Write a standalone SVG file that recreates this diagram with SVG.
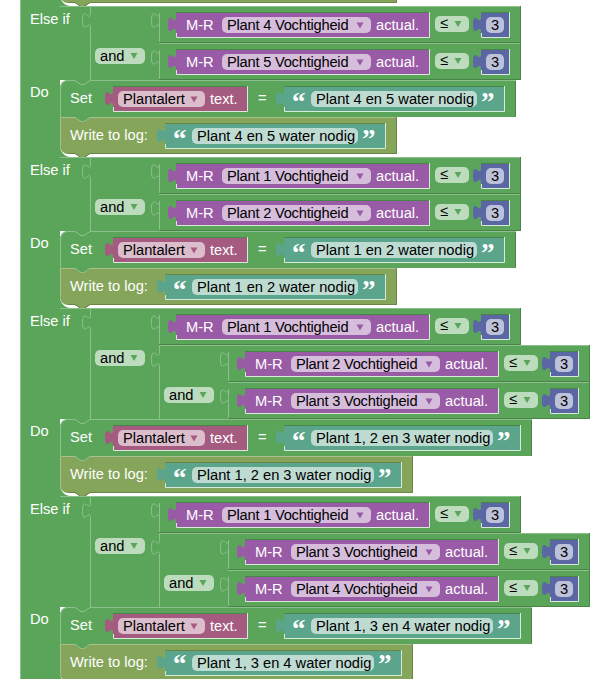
<svg xmlns="http://www.w3.org/2000/svg" width="615" height="679" viewBox="0 0 615 679">
<style>
text{font-family:"Liberation Sans",Arial,sans-serif;font-size:14.67px;fill:#000}
.w{fill:#fff}
.v{letter-spacing:-0.22px}
.q{font-family:"Liberation Serif","Times New Roman",serif;font-weight:bold;font-size:27px;fill:#fff}
.m{text-anchor:middle}
.g{fill:#5ba55b}.o{fill:#85a55b}.t{fill:#5ba58c}.p{fill:#995ba5}.k{fill:#a55b80}.b{fill:#5b67a5}
.fg{fill:#bddbbd}.fp{fill:#d6bddb}.fk{fill:#dbbdcc}.ft{fill:#bddbd1}.fb{fill:#bdc2db}
.lg{fill:none;stroke:#8cc08c;stroke-width:1}
.dg{fill:none;stroke:#488448;stroke-width:1}
.lo{fill:none;stroke:#a9c08c;stroke-width:1}
.do{fill:none;stroke:#6a8448;stroke-width:1}
.hi{fill:none;stroke:#d8ead8;stroke-width:1}
</style>
<defs>
<g id="row">
<rect class="g" width="362" height="37"/>
<path class="lg" d="M0.5,37V7c0,10 -8,-8 -8,7.500s8,-2.500 8,7.500V37"/>
<path class="lg" d="M0,0.500H361"/>
<path class="dg" d="M361.500,0V36.500H0"/>
<path class="p" d="M17,6V11c0,10 -8,-8 -8,7.500s8,-2.500 8,7.500V32H271V6Z"/>
<path class="dg" d="M17,6.500H271"/>
<path class="hi" d="M270.500,6V31.500H17.500V27"/>
<rect class="fp" x="63" y="11" width="149" height="16" rx="5"/>
<path class="p" d="M197.500,16.500h7l-3.500,6Z"/>
<rect class="fg" x="276" y="10" width="34" height="16" rx="5"/>
<path class="g" d="M295.500,15h7l-3.500,6Z"/>
<path class="b" d="M322,6V11c0,10 -8,-8 -8,7.500s8,-2.500 8,7.500V32H351V6Z"/>
<path class="dg" d="M322,6.500H351"/>
<path class="hi" d="M350.500,6V31.500H322.500V27"/>
<rect class="fb" x="327" y="11" width="18" height="16" rx="5"/>
</g>
<g id="pinkVar">
<path class="k" d="M113,6V11c0,10 -8,-8 -8,7.500s8,-2.500 8,7.500V32H248V6Z"/>
<path class="dg" d="M113,6.500H248"/>
<path class="hi" d="M247.500,6V31.500H113.500V27"/>
<rect class="fk" x="118" y="11" width="87" height="16" rx="5"/>
<path class="k" d="M190.500,16.500h7l-3.500,6Z"/>
</g>
<g id="doNarrow">
<path class="g" d="M60,8a8,8 0 0 1 8,-8H516V37H60Z"/>
<path class="lg" d="M60.500,37V8a7.500,7.500 0 0 1 7.500,-7.500H75l6,4h3l6,-4H516"/>
<path class="dg" d="M515.500,1V36.500"/>
<use href="#pinkVar"/>
<path class="g" d="M60,66V77H71A11,11 0 0 1 60,66Z"/>
<path class="o" d="M60,37H397V74H90l-6,4h-3l-6,-4H68a8,8 0 0 1 -8,-8Z"/>
<path class="lo" d="M60.500,66V37.500H396"/>
<path class="do" d="M396.500,37V73.500H90l-6,4h-3l-6,-4H68"/>
<path class="g" d="M75,37l6,4h3l6,-4Z"/>
<path class="lg" d="M75,37.500l6,4h3l6,-4"/>
<path class="t" d="M284,6V11c0,10 -8,-8 -8,7.500s8,-2.500 8,7.500V32H505V6Z"/>
<path class="dg" d="M284,6.500H505"/>
<path class="hi" d="M504.500,6V31.500H284.500V27"/>
<rect class="ft" x="311" y="11" width="166" height="16" rx="5"/>
<path class="t" d="M165,43V48c0,10 -8,-8 -8,7.500s8,-2.500 8,7.500V69H386V43Z"/>
<path class="do" d="M165,43.500H386"/>
<path class="hi" d="M385.500,43V68.500H165.500V64"/>
<rect class="ft" x="192" y="48" width="166" height="16" rx="5"/>
</g>
<g id="doWide">
<path class="g" d="M60,8a8,8 0 0 1 8,-8H532V37H60Z"/>
<path class="lg" d="M60.500,37V8a7.500,7.500 0 0 1 7.500,-7.500H75l6,4h3l6,-4H532"/>
<path class="dg" d="M531.500,1V36.500"/>
<use href="#pinkVar"/>
<path class="g" d="M60,66V77H71A11,11 0 0 1 60,66Z"/>
<path class="o" d="M60,37H413V74H90l-6,4h-3l-6,-4H68a8,8 0 0 1 -8,-8Z"/>
<path class="lo" d="M60.500,66V37.500H412"/>
<path class="do" d="M412.500,37V73.500H90l-6,4h-3l-6,-4H68"/>
<path class="g" d="M75,37l6,4h3l6,-4Z"/>
<path class="lg" d="M75,37.500l6,4h3l6,-4"/>
<path class="t" d="M284,6V11c0,10 -8,-8 -8,7.500s8,-2.500 8,7.500V32H521V6Z"/>
<path class="dg" d="M284,6.500H521"/>
<path class="hi" d="M520.500,6V31.500H284.500V27"/>
<rect class="ft" x="311" y="11" width="182" height="16" rx="5"/>
<path class="t" d="M165,43V48c0,10 -8,-8 -8,7.500s8,-2.500 8,7.500V69H402V43Z"/>
<path class="do" d="M165,43.500H402"/>
<path class="hi" d="M401.500,43V68.500H165.500V64"/>
<rect class="ft" x="192" y="48" width="182" height="16" rx="5"/>
</g>
<g id="andField">
<rect class="fg" width="50" height="16" rx="5"/>
<path class="g" d="M35.500,5h7l-3.500,6Z"/>
</g>
</defs>
<rect width="615" height="679" fill="#fff"/>

<g id="outer-column">
<rect class="g" x="20" y="0" width="40" height="679"/>
<path class="lg" d="M20.500,0V679"/>
</g>
<g id="previous-write">
<path class="g" d="M60,-5V6H71A11,11 0 0 1 60,-5Z"/>
<path class="o" d="M60,-34H397V3H90l-6,4h-3l-6,-4H68a8,8 0 0 1 -8,-8Z"/>
<path class="do" d="M396.500,-34V2.500H90l-6,4h-3l-6,-4H68"/>
</g>

<g id="section-1">
<rect class="g" x="60" y="6" width="99" height="74"/>
<path class="lg" d="M60,6.500H159"/>
<path class="lg" d="M90.500,6V13c0,10 -8,-8 -8,7.500s8,-2.500 8,7.500V80"/>
<text class="w" x="30" y="24">Else if</text>
<text class="w" x="30" y="97">Do</text>
<g id="s1-and"><use href="#andField" x="95" y="48"/><text x="100" y="61">and</text></g>
<g id="s1-row1" transform="translate(159,6)"><use href="#row"/><text class="w" x="27" y="24">M-R</text><text class="v" x="68" y="24">Plant 4 Vochtigheid</text><text class="w" x="217" y="24">actual.</text><text x="281" y="22">≤</text><text class="m" x="336" y="24">3</text></g>
<g id="s1-row2" transform="translate(159,43)"><use href="#row"/><text class="w" x="27" y="24">M-R</text><text class="v" x="68" y="24">Plant 5 Vochtigheid</text><text class="w" x="217" y="24">actual.</text><text x="281" y="22">≤</text><text class="m" x="336" y="24">3</text></g>
<g id="s1-do" transform="translate(0,80)">
<use href="#doNarrow"/>
<text class="w" x="70" y="23">Set</text><text x="123" y="24">Plantalert</text><text class="w" x="210" y="24">text.</text><text class="w" x="258" y="23">=</text>
<text class="q" x="292" y="30.500">“</text><text x="316" y="24">Plant 4 en 5 water nodig</text><text class="q" x="481" y="30.500">”</text>
<text class="w" x="70" y="60">Write to log:</text>
<text class="q" x="173" y="67.500">“</text><text x="197" y="61">Plant 4 en 5 water nodig</text><text class="q" x="362" y="67.500">”</text>
</g>
</g>

<g id="section-2">
<rect class="g" x="60" y="157" width="99" height="74"/>
<path class="lg" d="M60,157.500H159"/>
<path class="lg" d="M90.500,157V164c0,10 -8,-8 -8,7.500s8,-2.500 8,7.500V231"/>
<text class="w" x="30" y="175">Else if</text>
<text class="w" x="30" y="248">Do</text>
<g id="s2-and"><use href="#andField" x="95" y="199"/><text x="100" y="212">and</text></g>
<g id="s2-row1" transform="translate(159,157)"><use href="#row"/><text class="w" x="27" y="24">M-R</text><text class="v" x="68" y="24">Plant 1 Vochtigheid</text><text class="w" x="217" y="24">actual.</text><text x="281" y="22">≤</text><text class="m" x="336" y="24">3</text></g>
<g id="s2-row2" transform="translate(159,194)"><use href="#row"/><text class="w" x="27" y="24">M-R</text><text class="v" x="68" y="24">Plant 2 Vochtigheid</text><text class="w" x="217" y="24">actual.</text><text x="281" y="22">≤</text><text class="m" x="336" y="24">3</text></g>
<g id="s2-do" transform="translate(0,231)">
<use href="#doNarrow"/>
<text class="w" x="70" y="23">Set</text><text x="123" y="24">Plantalert</text><text class="w" x="210" y="24">text.</text><text class="w" x="258" y="23">=</text>
<text class="q" x="292" y="30.500">“</text><text x="316" y="24">Plant 1 en 2 water nodig</text><text class="q" x="481" y="30.500">”</text>
<text class="w" x="70" y="60">Write to log:</text>
<text class="q" x="173" y="67.500">“</text><text x="197" y="61">Plant 1 en 2 water nodig</text><text class="q" x="362" y="67.500">”</text>
</g>
</g>

<g id="section-3">
<rect class="g" x="60" y="308" width="168" height="111"/>
<path class="lg" d="M60,308.500H159"/>
<path class="lg" d="M90.500,308V315c0,10 -8,-8 -8,7.500s8,-2.500 8,7.500V419"/>
<path class="lg" d="M159.500,345V352c0,10 -8,-8 -8,7.500s8,-2.500 8,7.500V419"/>
<path class="lg" d="M159,345.500H228"/>
<text class="w" x="30" y="326">Else if</text>
<text class="w" x="30" y="436">Do</text>
<g id="s3-and1"><use href="#andField" x="95" y="350"/><text x="100" y="363">and</text></g>
<g id="s3-and2"><use href="#andField" x="164" y="387"/><text x="169" y="400">and</text></g>
<g id="s3-row1" transform="translate(159,308)"><use href="#row"/><text class="w" x="27" y="24">M-R</text><text class="v" x="68" y="24">Plant 1 Vochtigheid</text><text class="w" x="217" y="24">actual.</text><text x="281" y="22">≤</text><text class="m" x="336" y="24">3</text></g>
<g id="s3-row2" transform="translate(228,345)"><use href="#row"/><text class="w" x="27" y="24">M-R</text><text class="v" x="68" y="24">Plant 2 Vochtigheid</text><text class="w" x="217" y="24">actual.</text><text x="281" y="22">≤</text><text class="m" x="336" y="24">3</text></g>
<g id="s3-row3" transform="translate(228,382)"><use href="#row"/><text class="w" x="27" y="24">M-R</text><text class="v" x="68" y="24">Plant 3 Vochtigheid</text><text class="w" x="217" y="24">actual.</text><text x="281" y="22">≤</text><text class="m" x="336" y="24">3</text></g>
<g id="s3-do" transform="translate(0,419)">
<use href="#doWide"/>
<text class="w" x="70" y="23">Set</text><text x="123" y="24">Plantalert</text><text class="w" x="210" y="24">text.</text><text class="w" x="258" y="23">=</text>
<text class="q" x="292" y="30.500">“</text><text x="316" y="24">Plant 1, 2 en 3 water nodig</text><text class="q" x="497" y="30.500">”</text>
<text class="w" x="70" y="60">Write to log:</text>
<text class="q" x="173" y="67.500">“</text><text x="197" y="61">Plant 1, 2 en 3 water nodig</text><text class="q" x="378" y="67.500">”</text>
</g>
</g>

<g id="section-4">
<rect class="g" x="60" y="496" width="168" height="111"/>
<path class="lg" d="M60,496.500H159"/>
<path class="lg" d="M90.500,496V503c0,10 -8,-8 -8,7.500s8,-2.500 8,7.500V607"/>
<path class="lg" d="M159.500,533V540c0,10 -8,-8 -8,7.500s8,-2.500 8,7.500V607"/>
<path class="lg" d="M159,533.500H228"/>
<text class="w" x="30" y="514">Else if</text>
<text class="w" x="30" y="624">Do</text>
<g id="s4-and1"><use href="#andField" x="95" y="538"/><text x="100" y="551">and</text></g>
<g id="s4-and2"><use href="#andField" x="164" y="575"/><text x="169" y="588">and</text></g>
<g id="s4-row1" transform="translate(159,496)"><use href="#row"/><text class="w" x="27" y="24">M-R</text><text class="v" x="68" y="24">Plant 1 Vochtigheid</text><text class="w" x="217" y="24">actual.</text><text x="281" y="22">≤</text><text class="m" x="336" y="24">3</text></g>
<g id="s4-row2" transform="translate(228,533)"><use href="#row"/><text class="w" x="27" y="24">M-R</text><text class="v" x="68" y="24">Plant 3 Vochtigheid</text><text class="w" x="217" y="24">actual.</text><text x="281" y="22">≤</text><text class="m" x="336" y="24">3</text></g>
<g id="s4-row3" transform="translate(228,570)"><use href="#row"/><text class="w" x="27" y="24">M-R</text><text class="v" x="68" y="24">Plant 4 Vochtigheid</text><text class="w" x="217" y="24">actual.</text><text x="281" y="22">≤</text><text class="m" x="336" y="24">3</text></g>
<g id="s4-do" transform="translate(0,607)">
<use href="#doWide"/>
<text class="w" x="70" y="23">Set</text><text x="123" y="24">Plantalert</text><text class="w" x="210" y="24">text.</text><text class="w" x="258" y="23">=</text>
<text class="q" x="292" y="30.500">“</text><text x="316" y="24">Plant 1, 3 en 4 water nodig</text><text class="q" x="497" y="30.500">”</text>
<text class="w" x="70" y="60">Write to log:</text>
<text class="q" x="173" y="66">“</text><text x="197" y="61">Plant 1, 3 en 4 water nodig</text><text class="q" x="378" y="66">”</text>
</g>
</g>
</svg>
